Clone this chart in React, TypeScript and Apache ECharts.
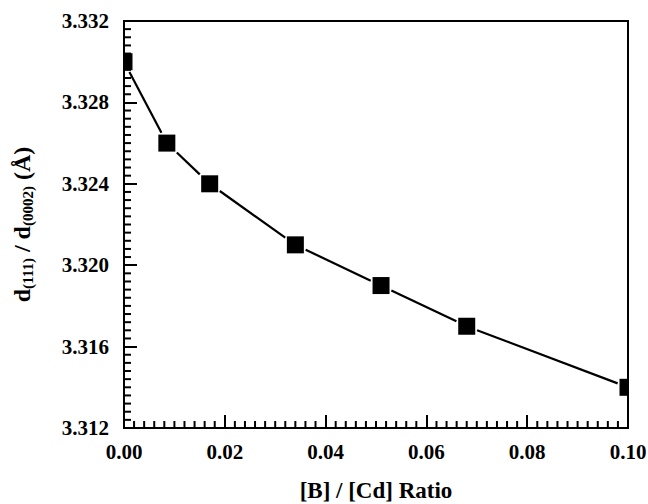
import React, { useEffect, useRef } from "react";
import * as echarts from "echarts";

const ratioX: number[] = [0, 0.0085, 0.017, 0.034, 0.051, 0.068, 0.1];
const spacingY: number[] = [3.330, 3.326, 3.324, 3.321, 3.319, 3.317, 3.314];
const xTitle = "[B] / [Cd] Ratio";
const yTitleRich = "{m|d}{s|(111)}{m| / d}{s|(0002)}{m| (Å)}";

const X_MIN = 0, X_MAX = 0.1, X_STEP = 0.02;
const Y_MIN = 3.312, Y_MAX = 3.332, Y_STEP = 0.004;
const MINOR_PER_MAJOR = 10;

const FONT = "Liberation Serif";

export default function App() {
  const ref = useRef<HTMLDivElement>(null);
  useEffect(() => {
    if (!ref.current) return;
    const chart = echarts.init(ref.current, undefined, { renderer: "svg" });
    const data = ratioX.map((x, i) => [x, spacingY[i]]);
    const half = 8.5;
    const gap = 2;
    const tickLine = { color: "#000", width: 2 };

    // minor tick positions (axis furniture, not data)
    const minorTicks: number[][] = [];
    const nx = Math.round((X_MAX - X_MIN) / X_STEP) * MINOR_PER_MAJOR;
    for (let k = 1; k < nx; k++) {
      if (k % MINOR_PER_MAJOR === 0) continue;
      minorTicks.push([X_MIN + (k * X_STEP) / MINOR_PER_MAJOR, Y_MIN, 0]);
    }
    const ny = Math.round((Y_MAX - Y_MIN) / Y_STEP) * MINOR_PER_MAJOR;
    for (let k = 1; k < ny; k++) {
      if (k % MINOR_PER_MAJOR === 0) continue;
      minorTicks.push([X_MIN, Y_MIN + (k * Y_STEP) / MINOR_PER_MAJOR, 1]);
    }

    chart.setOption({
      animation: false,
      backgroundColor: "#fff",
      grid: {
        left: 124,
        right: 20,
        top: 21,
        bottom: 76,
        outerBoundsMode: "none",
        show: true,
        borderColor: "#000",
        borderWidth: 2,
        backgroundColor: "transparent",
      },
      xAxis: {
        type: "value",
        min: X_MIN,
        max: X_MAX,
        interval: X_STEP,
        name: xTitle,
        nameLocation: "middle",
        nameGap: 51,
        nameTextStyle: { fontFamily: FONT, fontWeight: "bold", fontSize: 23, color: "#000" },
        axisLine: { show: true, onZero: false, lineStyle: tickLine },
        axisTick: { show: true, inside: true, length: 13, lineStyle: tickLine },
        splitLine: { show: false },
        axisLabel: {
          formatter: (v: number) => v.toFixed(2),
          fontFamily: FONT,
          fontWeight: "bold",
          fontSize: 21,
          color: "#000",
          margin: 13,
        },
      },
      yAxis: {
        type: "value",
        min: Y_MIN,
        max: Y_MAX,
        interval: Y_STEP,
        name: yTitleRich,
        nameLocation: "middle",
        nameGap: 88,
        nameRotate: 90,
        nameTextStyle: {
          fontFamily: FONT,
          fontWeight: "bold",
          color: "#000",
          rich: {
            m: { fontFamily: FONT, fontWeight: "bold", fontSize: 24, color: "#000", lineHeight: 28 },
            s: { fontFamily: FONT, fontWeight: "bold", fontSize: 15, color: "#000", lineHeight: 28, padding: [12, 0, 0, 0] },
          },
        },
        axisLine: { show: true, onZero: false, lineStyle: tickLine },
        axisTick: { show: true, inside: true, length: 13, lineStyle: tickLine },
        splitLine: { show: false },
        axisLabel: {
          formatter: (v: number) => v.toFixed(3),
          fontFamily: FONT,
          fontWeight: "bold",
          fontSize: 21,
          color: "#000",
          margin: 15,
        },
      },
      series: [
        {
          type: "custom",
          clip: true,
          z: 5,
          encode: { x: 0, y: 1 },
          data,
          renderItem: (params: any, api: any) => {
            const i = params.dataIndex;
            const p = api.coord([ratioX[i], spacingY[i]]);
            const children: any[] = [
              {
                type: "rect",
                shape: { x: p[0] - half, y: p[1] - half, width: half * 2, height: half * 2 },
                style: { fill: "#000" },
              },
            ];
            if (i < ratioX.length - 1) {
              const q = api.coord([ratioX[i + 1], spacingY[i + 1]]);
              const dx = q[0] - p[0];
              const dy = q[1] - p[1];
              const L = Math.hypot(dx, dy);
              const ux = dx / L;
              const uy = dy / L;
              const t = half / Math.max(Math.abs(ux), Math.abs(uy)) + gap;
              children.push({
                type: "line",
                shape: { x1: p[0] + ux * t, y1: p[1] + uy * t, x2: q[0] - ux * t, y2: q[1] - uy * t },
                style: { stroke: "#000", lineWidth: 2.2 },
              });
            }
            return { type: "group", children };
          },
        },
      ],
    });

    // minor ticks placed through the chart's own scales
    const len = 7;
    const elements = minorTicks.map((d) => {
      const p = chart.convertToPixel({ gridIndex: 0 }, [d[0], d[1]]) as number[];
      const shape =
        d[2] === 0
          ? { x1: p[0], y1: p[1], x2: p[0], y2: p[1] - len }
          : { x1: p[0], y1: p[1], x2: p[0] + len, y2: p[1] };
      return { type: "line", z: 50, silent: true, shape, style: { stroke: "#000", lineWidth: 2 } };
    });
    chart.setOption({ graphic: { elements } });

    return () => chart.dispose();
  }, []);
  return (
    <div
      ref={ref}
      style={{ position: "fixed", left: 0, top: 0, width: 648, height: 504, background: "#fff" }}
    />
  );
}
